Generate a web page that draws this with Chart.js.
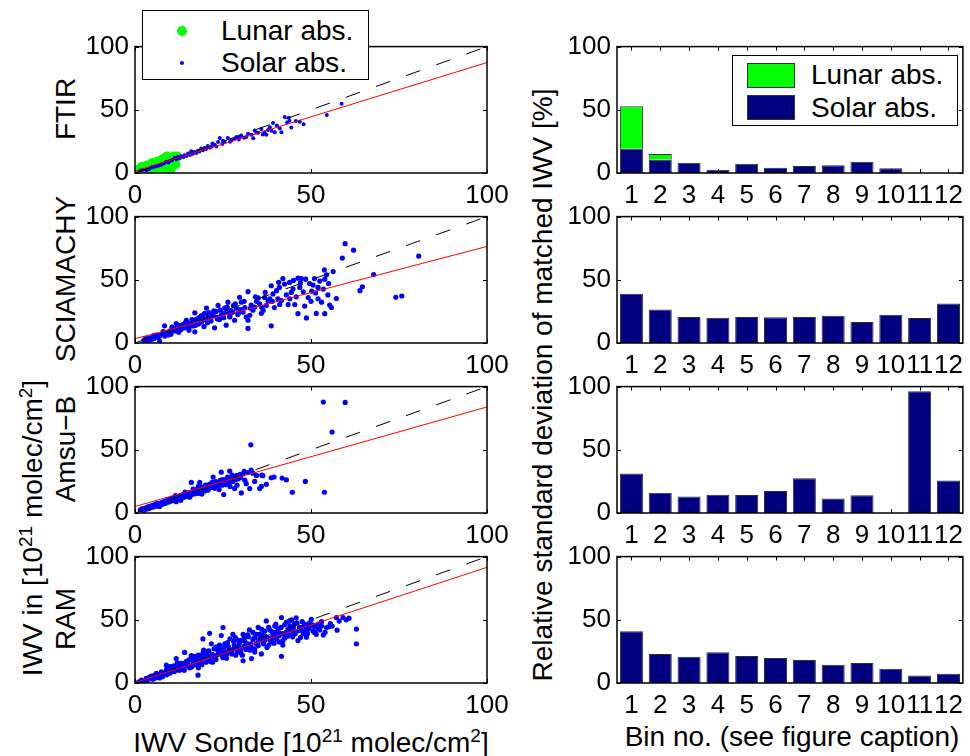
<!DOCTYPE html>
<html>
<head>
<meta charset="utf-8">
<script src="https://cdn.jsdelivr.net/npm/chart.js@4"></script>
<style>
body { margin:0; background:#fff; width:970px; height:756px; position:relative; overflow:hidden; font-family:"Liberation Sans", Arial, sans-serif; color:#000; }
canvas { position:absolute; }
.lbl { position:absolute; font-size:28px; line-height:1; white-space:nowrap; }
.rot { transform: translate(-50%,-50%) rotate(-90deg); }
.hc { transform: translateX(-50%); }
.sup { font-size:19px; position:relative; top:-10px; }
.legend { position:absolute; background:#fff; border:1px solid #000; z-index:2; }
.legend .t { position:absolute; font-size:28px; line-height:1; white-space:nowrap; }
.dot { position:absolute; border-radius:50%; }
.sw { position:absolute; border:1px solid #333; box-sizing:border-box; }
</style>
</head>
<body>
<div class="lbl rot" style="left:66px; top:109px;">FTIR</div>
<div class="lbl rot" style="left:66px; top:279px;">SCIAMACHY</div>
<div class="lbl rot" style="left:66px; top:449px;">Amsu−B</div>
<div class="lbl rot" style="left:66px; top:619px;">RAM</div>
<div class="lbl rot" style="left:33px; top:528px;">IWV in [10<span class="sup">21</span> molec/cm<span class="sup">2</span>]</div>
<div class="lbl rot" style="left:543px; top:385px;">Relative standard deviation of matched IWV [%]</div>
<div class="lbl hc" style="left:311px; top:729px;">IWV Sonde [10<span class="sup">21</span> molec/cm<span class="sup">2</span>]</div>
<div class="lbl hc" style="left:792px; top:723px;">Bin no. (see figure caption)</div>

<div class="legend" style="left:142px; top:10px; width:225px; height:68px;">
  <span class="dot" style="left:34px; top:15px; width:10px; height:10px; background:#00ff00;"></span>
  <div class="t" style="left:78px; top:6px;">Lunar abs.</div>
  <span class="dot" style="left:37px; top:50px; width:4px; height:4px; background:#0000ff;"></span>
  <div class="t" style="left:78px; top:38px;">Solar abs.</div>
</div>
<div class="legend" style="left:732px; top:55px; width:224px; height:69px;">
  <span class="sw" style="left:14px; top:7px; width:48px; height:25px; background:#00ff00;"></span>
  <div class="t" style="left:78px; top:5px;">Lunar abs.</div>
  <span class="sw" style="left:14px; top:39px; width:48px; height:25px; background:#000080;"></span>
  <div class="t" style="left:78px; top:38px;">Solar abs.</div>
</div>

<script>
// bins for the right column
const binLabels = ['1', '2', '3', '4', '5', '6', '7', '8', '9', '10', '11', '12'];
const countSolar = [19.2, 10.5, 8.2, 2.6, 7.4, 4.2, 5.5, 6.1, 8.9, 3.7, 0, 0];
const countLunar = [33.7, 4.5, 0, 0, 0, 0, 0, 0, 0, 0, 0, 0];
const stdSCIA = [39.0, 26.5, 20.5, 20.0, 20.5, 20.3, 20.5, 21.6, 16.6, 22.3, 19.7, 31.2];
const stdAmsu = [31.2, 16.1, 13.0, 14.5, 14.3, 17.4, 27.5, 11.4, 14.0, 0, 96.4, 25.7];
const stdRAM = [41.0, 22.9, 20.8, 24.4, 21.3, 19.7, 18.2, 14.5, 15.8, 11.2, 6.0, 7.3];

// reference lines [sonde, instrument]
const oneToOne = [[0, 0], [100, 100]];
const fitFTIR = [[0, 1.5], [100, 87.4]];
const fitSCIA = [[0, 3.4], [100, 76.4]];
const fitAmsu = [[0, 5.2], [100, 83.9]];
const fitRAM = [[0, 0.3], [100, 91.5]];

// scatter points [sonde, instrument]
const ftirLunar = [[1.5,1],[2,3],[2.5,1.5],[3,4],[3,0.5],[3.5,2.5],[4,5],[4,1.5],[4.5,3.5],[5,6],[5,2],[5.5,4],
  [6,7],[6,3],[6.5,5],[7,1.5],[7,8],[7.5,6],[8,4],[8.5,9],[8,7],[9,10],[9.5,8],[10,11],[10,5],[10.5,12],
  [11,13],[11.5,12],[11,9],[9,2],[6,0.5],[2,5],[1,2.5],[5,8],[8,11],[12,13],[3.5,6],[7.5,10],[10,1.5],
  [11.5,7],[4.5,0.5],[9,13],[6.5,9],[1.2,0.5]];
const ftirSolar = [[1.5,2.0],[2.2,2.6],[3.2,2.1],[4.0,3.1],[4.6,4.2],[5.0,4.8],[5.6,5.0],[6.0,5.6],[6.5,5.7],
  [7.0,6.2],[7.5,6.8],[8.2,7.6],[8.9,8.9],[9.5,8.4],[9.9,9.4],[10.6,10.2],[11.3,12.0],[11.8,10.9],[12.2,12.8],
  [13.2,13.3],[13.8,12.6],[14.1,14.1],[15.1,15.4],[15.6,14.3],[16.0,17.2],[16.9,16.7],[17.4,15.8],[17.9,17.7],
  [18.8,19.3],[19.3,18.0],[19.8,19.8],[20.7,21.4],[21.3,19.9],[22.0,23.4],[22.6,22.4],[23.1,21.0],[23.6,24.5],
  [24.1,27.6],[24.8,23.0],[25.5,24.5],[26.4,27.6],[27.0,24.8],[27.4,25.8],[28.3,27.1],[28.8,28.4],[29.5,26.5],
  [30.2,29.7],[31.0,27.8],[31.6,28.4],[32.1,31.0],[33.1,30.2],[33.6,27.5],[34.0,33.6],[35.0,31.8],[35.9,34.9],
  [36.3,30.5],[36.8,32.3],[37.3,30.2],[38.3,36.2],[38.8,33.5],[39.2,39.5],[39.7,32.3],[40.3,37.5],[41.1,35.4],
  [41.6,32.3],[42.5,44.3],[43.2,40.0],[43.7,43.8],[43.9,41.4],[44.4,36.0],[45.7,41.1],[46.8,40.6],[47.9,38.5],
  [54.5,45.8],[58.7,54.7],[12.7,11.8],[14.6,13.5],[16.4,15.2],[18.3,17.0],[20.2,19.0],[21.8,21.0],[25.0,25.6],
  [29.8,28.8],[34.5,32.0],[37.8,34.0]];
const sciaSolar = [[2.5,2.0],[3.0,3.5],[3.5,1.5],[4.0,4.0],[4.2,2.5],[4.8,3.0],[5.1,5.1],[5.5,3.8],[6.1,6.3],
  [6.5,4.5],[7.0,1.6],[7.2,6.0],[7.9,7.6],[8.4,13.6],[8.5,5.5],[9.0,8.0],[9.8,9.4],[10.2,7.0],[10.8,11.0],
  [11.2,9.5],[11.7,15.4],[12.0,12.5],[12.4,8.5],[13.0,10.5],[13.6,14.6],[14.0,12.0],[14.6,18.0],[15.0,15.5],
  [15.3,10.0],[16.0,16.1],[16.4,13.5],[17.0,23.9],[17.0,8.9],[17.5,19.0],[18.0,15.0],[18.4,18.0],[18.8,21.5],
  [19.3,21.9],[19.6,13.0],[20.0,18.5],[20.3,27.6],[20.6,16.0],[21.0,24.0],[21.5,20.0],[22.2,21.9],[22.6,12.0],
  [23.0,25.0],[23.6,29.7],[24.0,18.5],[24.5,22.0],[25.0,23.2],[25.5,27.6],[25.9,14.1],[26.4,32.3],[26.9,20.6],
  [27.3,25.0],[27.8,24.5],[28.3,18.0],[28.8,27.6],[29.2,22.5],[29.7,36.2],[30.2,32.3],[30.7,24.5],[31.2,28.0],
  [31.6,20.5],[32.1,40.6],[32.1,18.0],[32.1,11.5],[32.6,21.9],[33.0,30.0],[33.5,26.0],[34.0,28.4],[34.5,33.0],
  [35.0,35.7],[35.4,31.0],[35.9,23.5],[36.4,25.8],[36.8,36.0],[37.3,29.7],[37.8,33.5],[38.3,34.9],[38.7,45.3],
  [38.7,13.6],[39.2,38.8],[39.6,28.0],[40.2,41.4],[40.6,35.0],[41.1,30.5],[41.6,33.6],[42.0,51.0],[42.5,46.6],
  [43.0,38.0],[43.5,30.4],[43.9,47.9],[44.4,40.0],[44.9,42.7],[45.4,30.4],[45.8,36.5],[46.3,51.3],[46.3,23.2],
  [46.8,44.0],[47.3,51.0],[47.8,40.5],[48.2,29.2],[48.7,19.8],[49.2,36.0],[49.6,47.0],[50.2,41.0],[50.6,45.8],
  [51.0,51.0],[51.3,39.6],[51.5,23.4],[52.0,35.0],[52.5,49.0],[53.0,32.3],[53.5,42.7],[53.8,57.8],[53.9,50.5],
  [53.9,23.2],[54.4,53.9],[54.8,38.0],[55.3,30.0],[55.8,28.1],[56.3,56.5],[57.2,35.2],[58.9,67.2],[59.7,78.6],
  [62.1,73.4],[63.9,41.4],[64.6,44.5],[67.8,54.2],[74.1,36.2],[75.8,37.2],[80.6,68.8],
  [14.8,13.0],[16.8,17.5],[18.6,16.5],[21.8,22.8],[23.3,20.5],[26.0,24.5],[28.0,29.5],[30.0,26.5],
  [5.5,6.0],[6.8,5.2],[8.0,9.0],[9.5,6.5],[10.5,12.5],[11.5,10.5],[12.5,14.0],[13.3,11.5],[14.3,16.0],
  [15.5,13.0],[16.2,18.5],[17.2,14.0],[18.2,20.0],[19.0,17.0],[19.8,23.5],[20.8,21.0],[21.6,17.5],[22.4,25.5],
  [23.4,19.0],[24.2,26.0],[25.2,20.0],[26.2,28.5],[27.0,22.0],[28.5,31.0],[29.5,24.0],[31.0,33.0],[32.8,27.5],
  [34.2,36.5],[36.0,28.5],[37.0,40.0],[39.0,33.0],[41.0,44.0],[44.0,35.0],[47.0,47.5],[50.0,33.0],[52.0,44.0],
  [55.0,47.0],[48.5,50.5],[45.0,49.5],[40.8,48.0]];
const amsuSolar = [[1.5,2.5],[2.0,3.5],[2.5,2.0],[3.0,4.0],[3.2,3.0],[3.6,4.8],[4.0,3.5],[4.3,5.5],[4.8,4.5],
  [5.0,6.0],[5.4,5.0],[5.8,6.8],[6.2,5.5],[6.5,7.5],[7.0,5.2],[7.0,6.5],[7.4,8.0],[7.8,7.0],[8.2,9.0],[8.6,7.5],
  [9.0,10.0],[9.3,8.5],[9.7,10.8],[10.0,9.0],[10.4,11.5],[10.8,10.0],[11.2,12.0],[11.7,8.9],[12.0,13.0],
  [12.3,11.0],[12.8,13.5],[13.2,12.0],[13.6,14.5],[14.0,12.5],[14.5,15.0],[15.0,13.5],[15.4,16.0],[15.8,14.0],
  [16.0,24.2],[16.3,16.5],[16.8,15.0],[17.0,17.7],[17.4,17.0],[17.9,15.5],[18.4,24.2],[18.4,18.0],[18.9,16.5],
  [19.3,19.0],[19.8,17.5],[20.2,20.0],[20.7,18.0],[21.1,21.0],[21.7,20.1],[22.2,28.4],[22.2,21.5],[22.7,19.5],
  [23.2,22.5],[23.9,18.5],[24.0,24.0],[24.5,32.3],[24.8,22.0],[25.2,14.6],[25.5,25.0],[26.0,27.0],[26.5,23.5],
  [26.9,33.2],[27.3,28.0],[27.8,25.0],[28.3,19.3],[28.8,29.5],[29.3,27.0],[29.8,30.5],[30.2,15.9],[30.7,31.0],
  [31.2,26.0],[31.6,23.2],[32.1,32.0],[32.6,19.3],[32.9,53.9],[33.5,31.5],[34.5,29.7],[35.4,19.3],[35.9,21.0],
  [36.3,29.5],[37.3,22.7],[38.7,27.9],[41.8,27.6],[43.0,26.3],[44.7,16.4],[48.4,25.0],[53.5,87.8],[53.8,16.4],
  [56.0,64.0],[59.7,87.5],
  [6.0,7.2],[8.0,8.2],[9.5,9.0],[11.0,11.2],[13.0,13.8],[15.0,15.8],[17.0,18.5],[19.0,20.5],[21.0,22.5],
  [23.0,24.8],[25.0,26.5],[27.0,26.0],[11.5,13.8],[14.2,16.5],[16.5,19.0],[18.0,21.0],[20.0,22.0],[22.0,24.5],
  [2.2,2.8],[2.8,3.2],[3.4,3.8],[3.8,4.4],[4.5,4.8],[5.2,5.6],[5.6,6.2],[6.3,6.5],[6.8,7.0],[7.2,7.6],
  [7.6,7.8],[8.4,8.5],[8.8,9.2],[9.2,9.6],[9.8,10.2],[10.2,10.5],[10.6,11.0],[11.4,11.6],[11.8,12.4],
  [12.6,12.8],[13.4,13.2],[13.8,14.0],[14.6,14.2],[15.2,15.0],[15.6,15.4],[16.2,15.8],[16.6,17.5],[17.2,16.2],
  [17.8,18.0],[18.6,19.5],[19.5,18.5],[20.4,21.0],[20.9,19.0],[21.4,23.0],[22.5,23.0],[23.5,21.0],[24.3,26.0],
  [25.8,22.5],[26.3,28.5],[27.6,30.0],[28.6,26.5],[30.0,28.0],[31.0,33.0],[33.0,34.0],[34.0,25.0],[36.0,30.0],
  [39.5,28.5],[29.0,22.0],[27.0,21.0],[13.0,10.0],[15.5,12.5],[19.0,15.0]];
const ramSolar = [[1.0,0.8],[1.8,2.3],[2.5,1.0],[3.2,3.6],[3.5,2.0],[4.0,4.5],[4.6,5.5],[5.0,3.0],[5.5,6.0],
  [6.1,7.6],[6.5,4.5],[7.0,6.5],[7.5,8.9],[7.8,5.0],[8.2,8.0],[8.9,14.1],[9.0,6.5],[9.5,10.0],[10.0,8.0],
  [10.4,11.5],[10.8,12.8],[11.2,9.0],[11.7,19.3],[12.0,11.0],[12.5,13.5],[13.0,10.5],[13.6,15.3],[14.1,24.2],
  [14.0,12.5],[14.5,17.0],[15.0,14.0],[15.5,18.5],[16.0,21.6],[16.0,12.5],[16.5,16.0],[17.0,19.5],[17.5,14.5],
  [17.9,6.2],[18.0,22.0],[18.4,15.3],[18.8,18.0],[19.3,34.9],[19.3,23.6],[19.8,20.5],[20.2,16.5],[20.6,25.0],
  [21.2,39.3],[21.2,19.0],[21.7,31.0],[22.0,22.5],[22.5,27.0],[23.0,18.5],[23.6,25.5],[24.0,30.0],[24.5,37.5],
  [24.8,21.5],[25.0,43.9],[25.3,28.0],[25.8,24.0],[26.3,32.0],[26.8,26.5],[27.4,25.5],[27.8,38.5],[28.2,30.0],
  [28.6,22.0],[29.1,34.0],[29.7,31.8],[30.2,27.5],[30.7,38.5],[30.7,17.6],[31.2,33.0],[31.7,29.0],[32.2,36.5],
  [32.7,26.0],[33.1,19.3],[33.5,40.0],[34.0,36.2],[34.5,31.0],[35.0,44.0],[35.4,38.5],[35.9,23.0],[36.3,34.0],
  [36.8,41.0],[37.3,49.1],[37.8,36.0],[38.3,41.9],[38.7,32.5],[39.2,38.0],[39.7,45.0],[40.2,35.0],[40.6,43.0],
  [41.1,39.5],[41.6,51.8],[41.6,21.1],[42.0,33.5],[42.5,46.0],[42.9,40.1],[43.4,37.0],[43.9,49.1],[44.3,42.0],
  [44.8,36.5],[45.3,47.0],[45.8,51.6],[46.3,33.6],[46.7,44.0],[47.3,43.9],[47.8,39.0],[48.2,46.5],[48.7,36.2],
  [49.2,42.5],[49.6,47.5],[50.1,50.4],[50.6,41.1],[51.0,44.5],[51.5,38.5],[52.0,46.6],[52.5,42.0],[53.0,48.5],
  [54.0,40.1],[54.4,43.9],[55.5,47.0],[57.2,51.8],[57.4,41.8],[59.1,51.8],[60.8,51.3],[62.9,42.7],[62.9,31.0],
  [9.0,9.5],[11.0,10.5],[13.0,13.0],[15.0,15.0],[17.0,16.5],[19.0,18.5],[21.0,21.0],[23.0,21.5],[25.0,24.0],
  [27.0,25.0],[29.0,27.5],[31.0,29.0],[33.0,31.0],[35.0,32.5],[37.0,34.0],[39.0,35.5],[41.0,37.5],[43.0,39.0],
  [45.0,41.0],[47.0,42.0],[12.0,16.0],[16.0,18.5],[20.0,23.0],[24.0,27.0],[28.0,33.0],[32.0,38.0],[36.0,38.0],
  [40.0,40.0],[44.0,45.0],[48.0,44.0],[22.0,16.5],[26.0,19.5],[30.0,24.0],[34.0,27.0],[38.0,30.0],[42.0,30.0],
  [10.0,13.0],[14.0,10.0],[18.0,12.0],[6.0,5.0],[8.0,6.0],
  [3,2.5],[4,3.5],[5,4.2],[5.5,3.5],[6.5,6.0],[7,4.0],[7.5,7.0],[8.5,7.0],[9,11.0],[9.5,7.5],[10.5,9.5],
  [11,13.5],[11.5,11.5],[12.5,10.0],[13,15.5],[13.5,12.0],[14.5,13.5],[15,17.5],[15.5,12.0],[16.5,14.0],
  [17,21.0],[17.5,17.5],[18.5,20.5],[19,14.5],[19.5,26.0],[20.5,19.5],[21,25.5],[21.5,17.0],[22.5,20.5],
  [23,28.5],[23.5,22.5],[24.5,24.5],[25,20.0],[25.5,31.0],[26,22.5],[26.5,29.0],[27,35.0],[27.5,23.0],
  [28,27.0],[28.5,36.0],[29,25.0],[29.5,30.0],[30,33.5],[30.5,22.0],[31,36.0],[31.5,26.5],[32,31.0],
  [32.5,42.0],[33,28.5],[33.5,34.5],[34,24.5],[34.5,38.5],[35,29.5],[35.5,35.0],[36,42.5],[36.5,31.0],
  [37,37.0],[37.5,28.0],[38,44.0],[38.5,34.0],[39,40.5],[39.5,31.5],[40,46.5],[40.5,38.0],[41,32.5],
  [41.5,44.0],[42,39.0],[42.5,35.5],[43,48.0],[43.5,42.5],[44,38.0],[44.5,50.0],[45,44.0],[45.5,39.0],
  [46,47.5],[46.5,41.5],[47,36.0],[47.5,48.5],[48,41.0],[48.5,45.0],[49,39.0],[49.5,44.0],[50.5,46.0],
  [51,40.0],[52,43.0],[53,45.0],[53.5,38.0],[55,44.5],[56,45.0],[58,49.0],[60,50.0]];

const panelTops = [45, 215, 385, 555];

Chart.defaults.font.family = '"Liberation Sans", Arial, sans-serif';
Chart.defaults.font.size = 26;
Chart.defaults.color = '#000';
Chart.defaults.animation = false;
Chart.defaults.plugins.legend.display = false;
Chart.defaults.plugins.tooltip.enabled = false;

// matlab style box with inward ticks on all four sides
const boxTicks = {
    id: 'boxTicks',
    afterDraw(chart) {
        const { ctx, chartArea: a, scales: { x, y } } = chart;
        ctx.save();
        ctx.strokeStyle = '#000';
        ctx.lineWidth = 1;
        ctx.beginPath();
        x.ticks.forEach((t, i) => {
            const px = Math.round(x.getPixelForTick(i)) + 0.5;
            ctx.moveTo(px, a.bottom); ctx.lineTo(px, a.bottom - 4);
            ctx.moveTo(px, a.top); ctx.lineTo(px, a.top + 4);
        });
        y.ticks.forEach((t, i) => {
            const py = Math.round(y.getPixelForTick(i)) + 0.5;
            ctx.moveTo(a.left, py); ctx.lineTo(a.left + 4, py);
            ctx.moveTo(a.right, py); ctx.lineTo(a.right - 4, py);
        });
        ctx.stroke();
        ctx.lineWidth = 1.5;
        ctx.strokeRect(a.left, a.top, a.right - a.left, a.bottom - a.top);
        ctx.restore();
    }
};

function addCanvas(left, top, w, h) {
    const c = document.createElement('canvas');
    c.width = w;
    c.height = h;
    c.style.left = left + 'px';
    c.style.top = top + 'px';
    document.body.appendChild(c);
    return c;
}

function axisX(extra) {
    return Object.assign({
        ticks: { padding: 7, autoSkip: false, maxRotation: 0, minRotation: 0 },
        grid: { display: false, drawTicks: false },
        border: { display: false },
        afterFit: s => { s.height = 40; }
    }, extra);
}

function axisY(width, extra) {
    return Object.assign({
        min: 0, max: 100,
        ticks: { stepSize: 50, padding: 6 },
        grid: { display: false, drawTicks: false },
        border: { display: false },
        afterFit: s => { s.width = width; }
    }, extra);
}

const xy = arr => arr.map(p => ({ x: p[0], y: p[1] }));

function scatterPanel(i, solar, fit, lunar) {
    const canvas = addCanvas(80, panelTops[i] - 20, 437, 188);
    const r = i === 0 ? 2.0 : 2.6;
    const datasets = [
        { data: xy(fit), showLine: true, borderColor: '#ff0000', borderWidth: 1, pointRadius: 0 },
        { data: xy(oneToOne), showLine: true, borderColor: '#000000', borderWidth: 1, borderDash: [15, 17], pointRadius: 0 },
        { data: xy(solar), pointRadius: r, pointBackgroundColor: '#0000ff', pointBorderColor: '#0000ff', pointBorderWidth: 0 }
    ];
    if (lunar) {
        datasets.push({ data: xy(lunar), pointRadius: 5, pointBackgroundColor: '#00ff00', pointBorderColor: '#00ff00', pointBorderWidth: 0 });
    }
    new Chart(canvas, {
        type: 'scatter',
        data: { datasets },
        options: {
            responsive: false,
            layout: { padding: { top: 20, right: 30, left: 0, bottom: 0 } },
            scales: {
                x: axisX({ type: 'linear', min: 0, max: 100,
                    ticks: { stepSize: 50, padding: 7, autoSkip: false, maxRotation: 0, minRotation: 0 } }),
                y: axisY(55)
            }
        },
        plugins: [boxTicks]
    });
}

function barPanel(i, series) {
    const canvas = addCanvas(560, panelTops[i] - 20, 410, 188);
    new Chart(canvas, {
        type: 'bar',
        data: {
            labels: binLabels,
            datasets: series.map(s => ({
                data: s.values,
                backgroundColor: s.color,
                borderColor: '#303030',
                borderWidth: 1,
                barPercentage: 0.8,
                categoryPercentage: 1
            }))
        },
        options: {
            responsive: false,
            layout: { padding: { top: 20, right: 2, left: 0, bottom: 0 } },
            scales: {
                x: axisX({ stacked: true }),
                y: axisY(57, { stacked: true })
            }
        },
        plugins: [boxTicks]
    });
}

scatterPanel(0, ftirSolar, fitFTIR, ftirLunar);
scatterPanel(1, sciaSolar, fitSCIA);
scatterPanel(2, amsuSolar, fitAmsu);
scatterPanel(3, ramSolar, fitRAM);

barPanel(0, [{ values: countSolar, color: '#000080' }, { values: countLunar, color: '#00ff00' }]);
barPanel(1, [{ values: stdSCIA, color: '#000080' }]);
barPanel(2, [{ values: stdAmsu, color: '#000080' }]);
barPanel(3, [{ values: stdRAM, color: '#000080' }]);
</script>
</body>
</html>
